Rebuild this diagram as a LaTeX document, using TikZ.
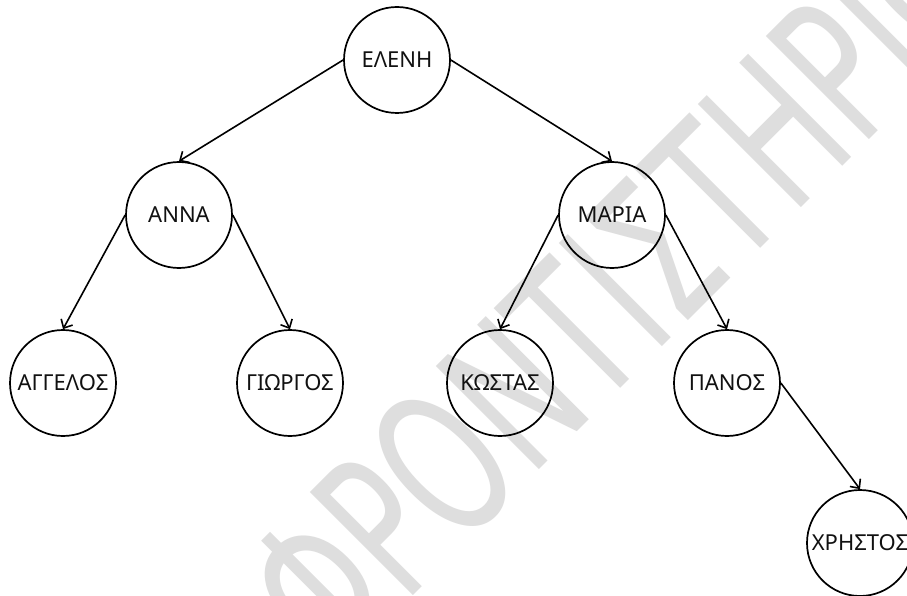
\documentclass[tikz,border=0pt]{standalone}
\usepackage{fontspec}
\setmainfont{Noto Sans}
\newfontfamily\wmfont[FakeStretch=0.64]{DejaVu Sans}
\usetikzlibrary{arrows.meta}
\definecolor{wm}{HTML}{DEDEDE}
\definecolor{ink}{HTML}{111111}
\tikzset{
  person/.style={draw=black, circle, line width=1.7pt, minimum size=106pt, inner sep=0pt,
    text=ink, font=\fontsize{22}{26}\selectfont},
  link/.style={line width=1.6pt, -{Straight Barb[length=7pt,width=13pt,line width=1.6pt]}},
  watermark/.style={anchor=base west, rotate=45, text=wm, inner sep=0pt,
    font=\wmfont\fontsize{200}{200}\selectfont}
}
\begin{document}
\begin{tikzpicture}[x=1pt,y=-1pt]
\useasboundingbox (0,0) rectangle (907,596);
\begin{scope}
\clip (0,0) rectangle (907,596);
\fill[white] (0,0) rectangle (907,596);
\node[watermark] (wm) at (333,676) {ΦΡΟΝΤΙΣΤΗΡΙΟ};
\node[person] (eleni)    at (397,60)  {ΕΛΕΝΗ};
\node[person] (anna)     at (179,215) {ΑΝΝΑ};
\node[person] (maria)    at (612,215) {ΜΑΡΙΑ};
\node[person] (angelos)  at (63,383)  {ΑΓΓΕΛΟΣ};
\node[person] (giorgos)  at (290,383) {ΓΙΩΡΓΟΣ};
\node[person] (kostas)   at (500,383) {ΚΩΣΤΑΣ};
\node[person] (panos)    at (727,383) {ΠΑΝΟΣ};
\node[person] (christos) at (860,543) {ΧΡΗΣΤΟΣ};
\draw[link] (eleni.west) -- (anna.north);
\draw[link] (eleni.east) -- (maria.north);
\draw[link] (anna.west) -- (angelos.north);
\draw[link] (anna.east) -- (giorgos.north);
\draw[link] (maria.west) -- (kostas.north);
\draw[link] (maria.east) -- (panos.north);
\draw[link] (panos.east) -- (christos.north);
\end{scope}
\end{tikzpicture}
\end{document}
